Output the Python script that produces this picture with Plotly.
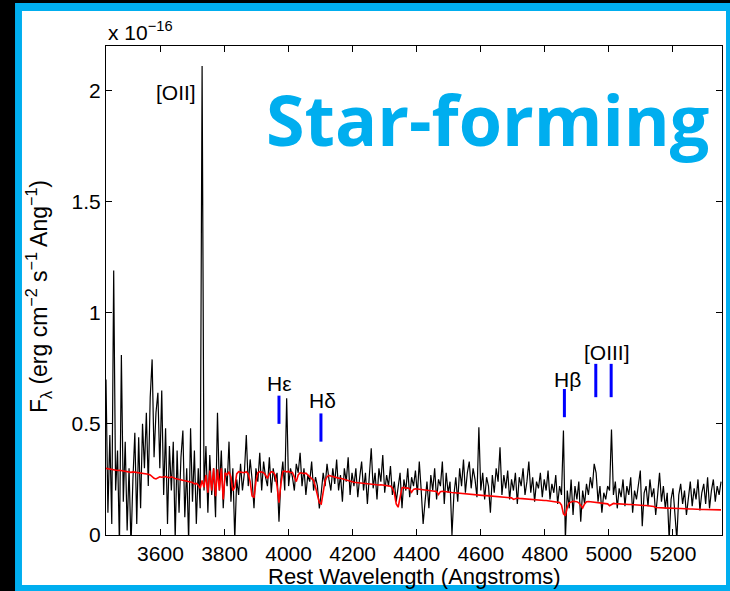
import plotly.graph_objects as go

# ---------------- data ----------------
wave_start = 3430      # Angstrom, first sample
wave_step = 6          # Angstrom per sample

# observed flux (units of 1e-16 erg cm^-2 s^-1 Ang^-1)
flux = [
    0.70, 0.10, 0.45, 0.05, 1.19, 0.20, 0.38, -0.05, 0.81, 0.15,
    0.42, 0.02, 0.30, -0.05, 0.25, 0.46, 0.05, 0.44, 0.12, 0.50,
    0.30, 0.55, 0.22, 0.62, 0.79, 0.35, 0.55, 0.64, 0.30, 0.65,
    0.18, 0.48, 0.05, 0.40, 0.20, 0.42, -0.02, 0.38, 0.10, 0.35,
    0.47, 0.08, 0.30, -0.03, 0.48, 0.15, 0.38, 0.05, 0.30, 0.12,
    2.11, 0.20, 0.40, 0.10, 0.36, 0.18, 0.30, 0.08, 0.55, 0.20,
    0.38, 0.12, 0.30, 0.22, 0.42, 0.15, 0.30, -0.02, 0.25, 0.18,
    0.32, 0.20, 0.28, 0.45, 0.22, 0.34, 0.25, 0.12, 0.30, 0.24,
    0.37, 0.20, 0.33, 0.26, 0.22, 0.35, 0.19, 0.30, 0.24, 0.28,
    0.06, 0.25, 0.33, 0.20, 0.615, 0.22, 0.30, 0.26, 0.20, 0.32,
    0.28, 0.37, 0.22, 0.30, 0.18, 0.27, 0.24, 0.33, 0.20, 0.26,
    0.22, 0.12, 0.19, 0.28, 0.22, 0.32, 0.25, 0.20, 0.30, 0.23,
    0.34, 0.20, 0.27, 0.15, 0.30, 0.24, 0.35, 0.18, 0.28, 0.22,
    0.30, 0.17, 0.26, 0.33, 0.20, 0.28, 0.14, 0.25, 0.39, 0.21,
    0.28, 0.16, 0.30, 0.24, 0.36, 0.19, 0.27, 0.22, 0.31, 0.18,
    0.24, 0.15, 0.21, 0.28, 0.12, 0.25, 0.20, 0.30, 0.17, 0.26,
    0.22, 0.29, 0.18, 0.33, 0.20, 0.05, 0.15, 0.24, 0.12, 0.27,
    0.20, 0.30, 0.16, 0.25, 0.22, 0.33, 0.14, 0.28, 0.19, 0.24,
    0.00, 0.18, 0.26, 0.15, 0.30, 0.22, 0.34, 0.19, 0.28, 0.33,
    0.21, 0.30, 0.25, 0.17, 0.485, 0.20, 0.28, 0.16, 0.26, 0.22,
    0.10, 0.27, 0.19, 0.30, 0.24, 0.395, 0.18, 0.27, 0.21, 0.29,
    0.16, 0.25, 0.20, 0.28, 0.14, 0.26, 0.22, 0.30, 0.18, 0.24,
    0.33, 0.19, 0.26, 0.15, 0.24, 0.21, 0.28, 0.17, 0.25, 0.20,
    0.29, 0.16, 0.23, 0.19, 0.27, 0.14, 0.22, 0.18, 0.47, -0.02,
    0.20, 0.12, 0.25, 0.09, 0.22, 0.16, 0.24, 0.06, 0.20, 0.14,
    0.23, 0.18, 0.26, 0.21, 0.32, 0.28, 0.15, 0.22, 0.10, 0.19,
    0.16, 0.22, 0.20, 0.474, 0.18, 0.24, 0.12, 0.21, 0.17, 0.25,
    0.13, 0.22, 0.18, 0.26, 0.10, 0.20, 0.16, 0.24, 0.29, 0.04,
    0.19, 0.22, 0.13, 0.25, 0.17, 0.21, 0.09, 0.18, 0.28, 0.15,
    0.22, 0.12, 0.19, -0.02, 0.16, 0.21, 0.11, -0.02, 0.18, 0.23,
    0.14, 0.20, 0.09, 0.17, 0.24, 0.13, 0.21, 0.16, 0.25, 0.11,
    0.19, 0.23, 0.14, 0.26, 0.12, 0.20, 0.25, 0.15, 0.22, 0.18, 0.24,
]

# stellar population model fit (same grid)
model = [
    0.300, 0.298, 0.296, 0.295, 0.293, 0.292, 0.290, 0.291, 0.289, 0.288,
    0.287, 0.285, 0.284, 0.282, 0.284, 0.283, 0.281, 0.280, 0.278, 0.279,
    0.277, 0.275, 0.273, 0.270, 0.262, 0.255, 0.252, 0.258, 0.262, 0.260,
    0.262, 0.263, 0.260, 0.258, 0.262, 0.256, 0.254, 0.252, 0.250, 0.248,
    0.247, 0.245, 0.244, 0.240, 0.238, 0.236, 0.230, 0.232, 0.225, 0.210,
    0.245, 0.215, 0.270, 0.190, 0.290, 0.200, 0.300, 0.175, 0.295, 0.200,
    0.300, 0.160, 0.280, 0.270, 0.285, 0.260, 0.200, 0.215, 0.275, 0.285,
    0.283, 0.282, 0.280, 0.285, 0.275, 0.240, 0.175, 0.170, 0.240, 0.280,
    0.285, 0.283, 0.280, 0.270, 0.255, 0.275, 0.285, 0.283, 0.270, 0.220,
    0.145, 0.230, 0.285, 0.288, 0.284, 0.286, 0.280, 0.282, 0.262, 0.240,
    0.270, 0.280, 0.279, 0.276, 0.278, 0.270, 0.262, 0.255, 0.245, 0.215,
    0.185, 0.145, 0.140, 0.200, 0.245, 0.262, 0.268, 0.265, 0.262, 0.260,
    0.258, 0.256, 0.255, 0.252, 0.250, 0.248, 0.245, 0.240, 0.238, 0.237,
    0.236, 0.235, 0.236, 0.234, 0.233, 0.232, 0.230, 0.230, 0.228, 0.229,
    0.227, 0.226, 0.225, 0.226, 0.224, 0.222, 0.223, 0.221, 0.220, 0.212,
    0.190, 0.140, 0.125, 0.175, 0.212, 0.214, 0.210, 0.212, 0.208, 0.192,
    0.205, 0.208, 0.207, 0.206, 0.204, 0.205, 0.203, 0.202, 0.201, 0.200,
    0.199, 0.198, 0.196, 0.182, 0.195, 0.197, 0.195, 0.194, 0.193, 0.192,
    0.191, 0.190, 0.189, 0.188, 0.188, 0.187, 0.186, 0.185, 0.184, 0.183,
    0.182, 0.182, 0.181, 0.180, 0.180, 0.179, 0.178, 0.177, 0.177, 0.176,
    0.175, 0.175, 0.174, 0.173, 0.172, 0.172, 0.171, 0.170, 0.170, 0.169,
    0.168, 0.167, 0.160, 0.164, 0.166, 0.165, 0.164, 0.163, 0.162, 0.162,
    0.161, 0.160, 0.160, 0.159, 0.158, 0.157, 0.157, 0.156, 0.155, 0.155,
    0.154, 0.153, 0.152, 0.151, 0.150, 0.148, 0.146, 0.135, 0.095, 0.087,
    0.125, 0.145, 0.150, 0.152, 0.151, 0.150, 0.145, 0.135, 0.122, 0.140,
    0.150, 0.151, 0.150, 0.149, 0.148, 0.147, 0.147, 0.146, 0.145, 0.144,
    0.143, 0.140, 0.132, 0.138, 0.142, 0.141, 0.140, 0.140, 0.139, 0.139,
    0.138, 0.138, 0.137, 0.137, 0.136, 0.136, 0.135, 0.135, 0.134, 0.134,
    0.133, 0.133, 0.132, 0.132, 0.131, 0.128, 0.124, 0.123, 0.123, 0.122,
    0.122, 0.121, 0.121, 0.121, 0.120, 0.120, 0.120, 0.119, 0.119, 0.119,
    0.118, 0.118, 0.118, 0.117, 0.117, 0.117, 0.116, 0.116, 0.116, 0.116,
    0.115, 0.115, 0.115, 0.115, 0.114, 0.114, 0.114, 0.114, 0.113, 0.113, 0.113,
]

# line markers (blue ticks) : wavelength, bottom, top
marker_waves = [3970, 4101, 4861, 4959, 5007]
marker_low = [0.50, 0.42, 0.53, 0.62, 0.62]
marker_high = [0.627, 0.547, 0.657, 0.77, 0.77]

# line labels
label_text = ["[OII]", "H\u03b5", "H\u03b4", "H\u03b2", "[OIII]"]
label_wave = [3716, 3973, 4107, 4872, 4993]
label_flux = [1.99, 0.68, 0.605, 0.70, 0.82]
label_anchor = ["right", "center", "center", "center", "center"]

x_ticks = [3600, 3800, 4000, 4200, 4400, 4600, 4800, 5000, 5200]
y_ticks = [0, 0.5, 1, 1.5, 2]
y_ticktext = ["0", "0.5", "1", "1.5", "2"]

waves = [wave_start + wave_step * i for i in range(len(flux))]

FONT = "Liberation Sans, Arial, Helvetica, sans-serif"

fig = go.Figure()
fig.add_trace(go.Scatter(x=waves, y=flux, mode="lines",
                         line=dict(color="black", width=1.2), hoverinfo="skip"))
fig.add_trace(go.Scatter(x=waves, y=model, mode="lines",
                         line=dict(color="#ff0000", width=1.6), hoverinfo="skip"))
for w, lo, hi in zip(marker_waves, marker_low, marker_high):
    fig.add_trace(go.Scatter(x=[w, w], y=[lo, hi], mode="lines",
                             line=dict(color="#0000ff", width=3), hoverinfo="skip"))

for t, w, f, a in zip(label_text, label_wave, label_flux, label_anchor):
    fig.add_annotation(x=w, y=f, text=t, showarrow=False, xanchor=a, yanchor="middle",
                       font=dict(family=FONT, size=21, color="black"))

# exponent label
fig.add_annotation(xref="paper", yref="paper", x=0, y=1.0, yshift=0,
                   text="x 10<sup>\u221216</sup>", showarrow=False,
                   xanchor="left", yanchor="bottom",
                   font=dict(family=FONT, size=21, color="black"))
# axis titles
fig.add_annotation(xref="paper", yref="paper", x=0.5, y=-0.084,
                   text="Rest Wavelength (Angstroms)", showarrow=False,
                   xanchor="center", yanchor="middle",
                   font=dict(family=FONT, size=22, color="black"))
fig.add_annotation(xref="paper", yref="paper", x=-0.11, y=0.487,
                   text="F<sub>\u03bb</sub> (erg cm<sup>\u22122</sup> s<sup>\u22121</sup> Ang<sup>\u22121</sup>)",
                   showarrow=False, textangle=-90, xanchor="center", yanchor="middle",
                   font=dict(family=FONT, size=23, color="black"))
# big label
fig.add_annotation(xref="paper", yref="paper", x=0.62, y=0.85,
                   text="<b>Star-forming</b>", showarrow=False,
                   xanchor="center", yanchor="middle",
                   font=dict(family="Open Sans, sans-serif", size=70, color="#00AEEF"))

# frame: blue border with white interior, on black page
fig.add_shape(type="rect", xref="paper", yref="paper", layer="below",
              x0=-0.1477, x1=1.03, y0=-0.13, y1=1.0879,
              fillcolor="#00AEEF", line=dict(width=0))
fig.add_shape(type="rect", xref="paper", yref="paper", layer="below",
              x0=-0.1364, x1=1.0065, y0=-0.1022, y1=1.0716,
              fillcolor="white", line=dict(width=0))

axis_common = dict(showgrid=False, zeroline=False, showline=True, linecolor="black",
                   linewidth=1, mirror="ticks", ticks="inside", ticklen=6,
                   tickcolor="black", tickwidth=1,
                   tickfont=dict(family=FONT, size=21, color="black"))

fig.update_xaxes(range=[3430, 5353], tickvals=x_ticks, **axis_common)
fig.update_yaxes(range=[0, 2.2], tickvals=y_ticks, ticktext=y_ticktext, **axis_common)

fig.update_layout(width=730, height=591, showlegend=False,
                  margin=dict(l=106, r=8, t=46, b=56, pad=0),
                  paper_bgcolor="black", plot_bgcolor="white")

fig.write_html("out.html")
